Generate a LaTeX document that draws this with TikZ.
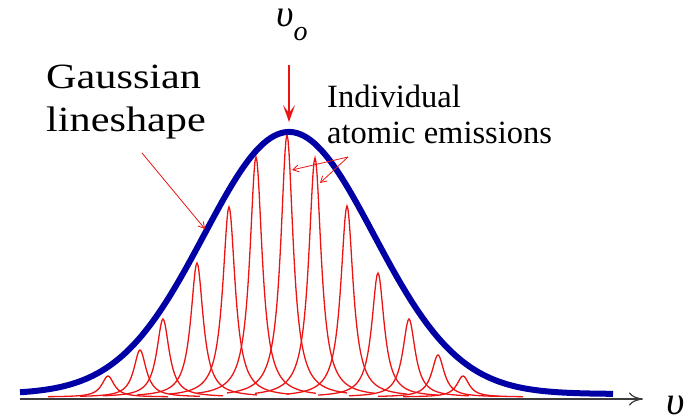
\documentclass[tikz,border=0pt]{standalone}
\usepackage{fontspec}
\setmainfont{Liberation Serif}
\newfontfamily\serifA{Liberation Serif}
\newfontfamily\gfont[FakeStretch=1.19]{Liberation Serif}
\usetikzlibrary{arrows.meta}
\definecolor{gblue}{RGB}{0,0,165}
\definecolor{ered}{RGB}{235,20,20}
\definecolor{axisgray}{RGB}{60,60,60}
\tikzset{
  gaussline/.style={gblue, line width=6pt},
  emline/.style={ered, line width=1.3pt},
  pointer/.style={ered, line width=0.8pt, -{Straight Barb[length=6pt,width=7pt]}},
  toparrow/.style={ered, line width=1.5pt, -{Stealth[length=17pt,width=12pt,inset=8pt]}},
  axisline/.style={axisgray, line width=1.2pt, -{Computer Modern Rightarrow[length=14pt,width=13pt]}},
  lbl/.style={inner sep=0pt, anchor=base west, align=left},
}
\begin{document}
\begin{tikzpicture}[x=1pt,y=1pt]
\useasboundingbox (0,0) rectangle (691,415);
% axis
\coordinate (ax0) at (20,16);
\coordinate (ax1) at (643,16);
\draw[axisline] (ax0) -- (ax1);
% individual Lorentzian emissions
\foreach \c/\A in {108/21,140/47,163/78,197/134,229/190,256/240,287/262,315/239,347/191,378/124,409/78,438/42,463/21}{
  \pgfmathsetmacro\lo{\c-60}
  \pgfmathsetmacro\hi{\c+60}
  \draw[emline] plot[domain=\lo:\hi, samples=121] (\x,{18+\A*56.25/((\x-\c)^2+56.25)});
}
% Gaussian envelope
\draw[gaussline] plot[domain=20:613, samples=240, smooth] (\x,{21+262*exp(-0.5*((\x-289)/85)^2)});
% labels
\node[lbl, font=\gfont\fontsize{35.5}{43.4}\selectfont] (gauss) at (46,283.3) {Gaussian\\lineshape};
\node[lbl, font=\serifA\fontsize{32.5}{36.7}\selectfont] (indiv) at (327,271) {Individual\\atomic emissions};
\node[lbl, font=\serifA\fontsize{38}{44}\selectfont\itshape, text height=20pt] (nu0) at (276,388) {υ\lower14pt\hbox{\fontsize{28}{30}\selectfont o}};
\node[lbl, font=\serifA\fontsize{40}{48}\selectfont\itshape, text depth=0pt] (nu) at (666,0.5) {υ};
% pointers
\coordinate (gtail) at (142,262);
\coordinate (gtip) at (205,186);
\draw[pointer] (gtail) -- (gtip);
\coordinate (itail) at (348,258);
\coordinate (itip1) at (292,245);
\coordinate (itip2) at (320,232);
\draw[pointer] (itail) -- (itip1);
\draw[pointer] (itail) -- (itip2);
\coordinate (ttail) at (289,350);
\coordinate (ttip) at (289,293);
\draw[toparrow] (ttail) -- (ttip);
\end{tikzpicture}
\end{document}
